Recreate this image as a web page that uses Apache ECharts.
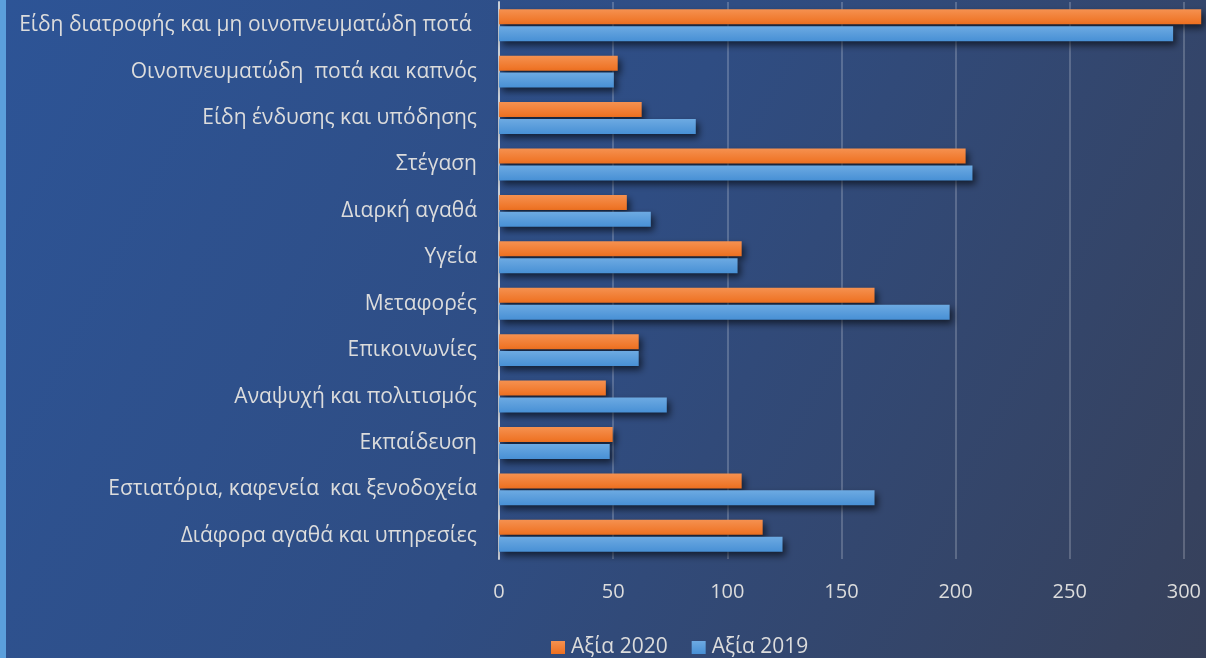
<!DOCTYPE html>
<html><head><meta charset="utf-8">
<script src="https://cdn.jsdelivr.net/npm/echarts@6/dist/echarts.min.js"></script>
<style>
html,body{margin:0;padding:0;background:#5B9FDC;overflow:hidden;width:1206px;height:658px;}
#c{position:absolute;left:6px;top:0;width:1300px;height:658px;}
</style></head><body>
<div id="c"></div>
<script>
const categories = [
  "Είδη διατροφής και μη οινοπνευματώδη ποτά ",
  "Οινοπνευματώδη  ποτά και καπνός",
  "Είδη ένδυσης και υπόδησης",
  "Στέγαση",
  "Διαρκή αγαθά",
  "Υγεία",
  "Μεταφορές",
  "Επικοινωνίες",
  "Αναψυχή και πολιτισμός",
  "Εκπαίδευση",
  "Εστιατόρια, καφενεία  και ξενοδοχεία",
  "Διάφορα αγαθά και υπηρεσίες"
];
const values2020 = [307.6, 52.0, 62.5, 204.4, 56.0, 106.3, 164.5, 61.2, 46.8, 49.8, 106.3, 115.5];
const values2019 = [295.3, 50.3, 86.2, 207.4, 66.5, 104.5, 197.4, 61.2, 73.5, 48.5, 164.5, 124.2];
const seriesNames = ["Αξία 2020", "Αξία 2019"];
const xTicks = { min: 0, max: 350, interval: 50 };

const font = "'Open Sans', sans-serif";
const txt = "#DCDCDC";
const grad = (a, b) => new echarts.graphic.LinearGradient(0, 0, 0, 1, [{offset: 0, color: a}, {offset: 1, color: b}]);
const barStyle = (a, b) => ({
  color: grad(a, b),
  shadowBlur: 7, shadowColor: 'rgba(0,0,0,0.6)', shadowOffsetX: 3, shadowOffsetY: 4
});

const chart = echarts.init(document.getElementById('c'), null, {renderer: 'canvas', width: 1300, height: 658});
chart.setOption({
  animation: false,
  backgroundColor: new echarts.graphic.LinearGradient(0, 0, 1, 1, [
    {offset: 0, color: '#2D5496'},
    {offset: 0.45, color: '#2F4D83'},
    {offset: 1, color: '#383F55'}
  ]),
  textStyle: {fontFamily: font},
  grid: {left: 493, top: 2, height: 557, width: 799, containLabel: false, outerBoundsMode: 'none'},
  legend: {
    top: 632, left: 540,
    icon: 'rect', itemWidth: 14, itemHeight: 13, itemGap: 24,
    textStyle: {color: txt, fontSize: 21, fontFamily: font, padding: [0, 0, 0, 1]},
    data: seriesNames
  },
  xAxis: {
    type: 'value', min: xTicks.min, max: xTicks.max, interval: xTicks.interval,
    axisLine: {show: false}, axisTick: {show: false},
    axisLabel: {color: txt, fontSize: 20, margin: 23, fontFamily: font},
    splitLine: {lineStyle: {color: 'rgba(255,255,255,0.2)', width: 2}}
  },
  yAxis: {
    type: 'category', data: categories, inverse: true,
    axisLine: {show: true, lineStyle: {color: 'rgba(230,230,230,0.8)', width: 2}},
    axisTick: {show: false},
    axisLabel: {color: txt, fontSize: 21, margin: 22, fontFamily: font}
  },
  series: [
    {name: seriesNames[0], type: 'bar', data: values2020, barWidth: 15, barGap: '13%',
     itemStyle: barStyle('#F59150', '#EE7020')},
    {name: seriesNames[1], type: 'bar', data: values2019, barWidth: 15, barGap: '13%',
     itemStyle: barStyle('#6DAAE2', '#4890D5')}
  ]
});
</script></body></html>
